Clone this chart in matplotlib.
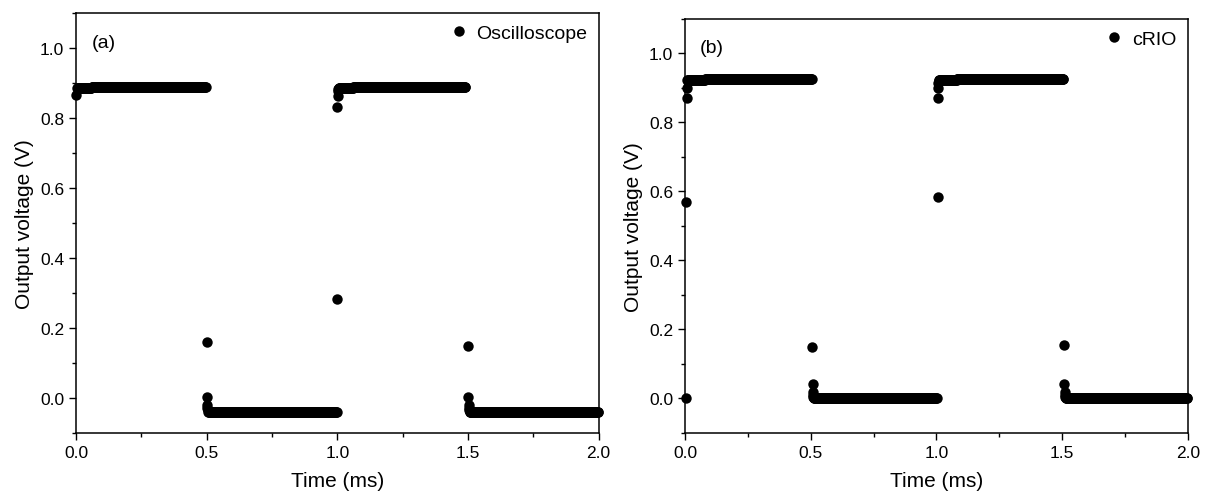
import numpy as np
import matplotlib
matplotlib.use("Agg")
import matplotlib.pyplot as plt
from matplotlib.ticker import MultipleLocator

plt.rcParams['font.family'] = ['Liberation Sans', 'DejaVu Sans']

# sampling step of the recorded traces (ms)
STEP = 0.002

# oscilloscope: isolated points around the switching edges
osc_edge_t = [0.0, 0.5, 0.5, 0.502, 0.503, 0.504,
              1.0, 1.0, 1.001, 1.002, 1.003,
              1.5, 1.5, 1.502, 1.503, 1.504]
osc_edge_v = [0.865, 0.16, 0.002, -0.02, -0.028, -0.034,
              0.283, 0.83, 0.862, 0.876, 0.882,
              0.147, 0.002, -0.02, -0.028, -0.034]
# oscilloscope: flat parts (start, end, level)
osc_seg_start = [0.004, 0.06, 0.14, 0.22, 0.506, 0.52,
                 1.006, 1.06, 1.14, 1.22, 1.506, 1.52]
osc_seg_end = [0.06, 0.14, 0.22, 0.497, 0.52, 1.0,
               1.06, 1.14, 1.22, 1.492, 1.52, 2.0]
osc_seg_level = [0.886, 0.887, 0.888, 0.889, -0.039, -0.041,
                 0.886, 0.887, 0.888, 0.889, -0.039, -0.041]

# cRIO: isolated points around the switching edges
crio_edge_t = [0.006, 0.006, 0.007, 0.008,
               0.507, 0.508, 0.509, 0.51, 0.511,
               1.005, 1.005, 1.006, 1.007,
               1.508, 1.509, 1.51, 1.511, 1.512]
crio_edge_v = [0.0, 0.57, 0.87, 0.90,
               0.149, 0.043, 0.018, 0.01, 0.005,
               0.585, 0.871, 0.900, 0.915,
               0.154, 0.043, 0.018, 0.01, 0.005]
# cRIO: flat parts (start, end, level)
crio_seg_start = [0.01, 0.08, 0.16, 0.513, 1.01, 1.08, 1.16, 1.514]
crio_seg_end = [0.08, 0.16, 0.506, 1.002, 1.08, 1.16, 1.505, 2.0]
crio_seg_level = [0.924, 0.925, 0.926, 0.0, 0.924, 0.925, 0.926, 0.0]


def build_trace(edge_t, edge_v, seg_start, seg_end, seg_level):
    t_list = list(edge_t)
    v_list = list(edge_v)
    for s, e, lv in zip(seg_start, seg_end, seg_level):
        ts = np.arange(s, e, STEP)
        t_list.extend(ts)
        v_list.extend([lv] * len(ts))
    return np.array(t_list), np.array(v_list)


def style_axes(ax):
    ax.set_xlim(0, 2.0)
    ax.set_ylim(-0.1, 1.1)
    ax.xaxis.set_major_locator(MultipleLocator(0.5))
    ax.xaxis.set_minor_locator(MultipleLocator(0.25))
    ax.yaxis.set_major_locator(MultipleLocator(0.2))
    ax.yaxis.set_minor_locator(MultipleLocator(0.1))
    ax.tick_params(which='both', direction='out', top=False, right=False,
                   labelsize=12.5, width=1.0)
    ax.tick_params(which='major', length=5)
    ax.tick_params(which='minor', length=3)
    for sp in ax.spines.values():
        sp.set_linewidth(1.1)
    ax.set_xlabel('Time (ms)', fontsize=15, labelpad=8)
    ax.set_ylabel('Output voltage (V)', fontsize=15, labelpad=4)


fig = plt.figure(figsize=(12.07, 5.02), dpi=100)
ax1 = fig.add_axes([0.063, 0.1355, 0.433, 0.837])
ax2 = fig.add_axes([0.5675, 0.1355, 0.4167, 0.825])

t_osc, v_osc = build_trace(osc_edge_t, osc_edge_v,
                           osc_seg_start, osc_seg_end, osc_seg_level)
t_crio, v_crio = build_trace(crio_edge_t, crio_edge_v,
                             crio_seg_start, crio_seg_end, crio_seg_level)

ax1.plot(t_osc, v_osc, 'o', color='black', ms=7.5, mew=0,
         label='Oscilloscope', clip_on=False, zorder=3)
ax2.plot(t_crio, v_crio, 'o', color='black', ms=7.5, mew=0,
         label='cRIO', clip_on=False, zorder=3)

for ax, tag in [(ax1, '(a)'), (ax2, '(b)')]:
    style_axes(ax)
    ax.text(0.03, 0.93, tag, transform=ax.transAxes, fontsize=14,
            va='center', ha='left')
    ax.legend(loc='upper right', frameon=False, fontsize=14,
              handletextpad=0.3, borderaxespad=0.2, handlelength=1.2)

fig.savefig('out.png', dpi=100)
